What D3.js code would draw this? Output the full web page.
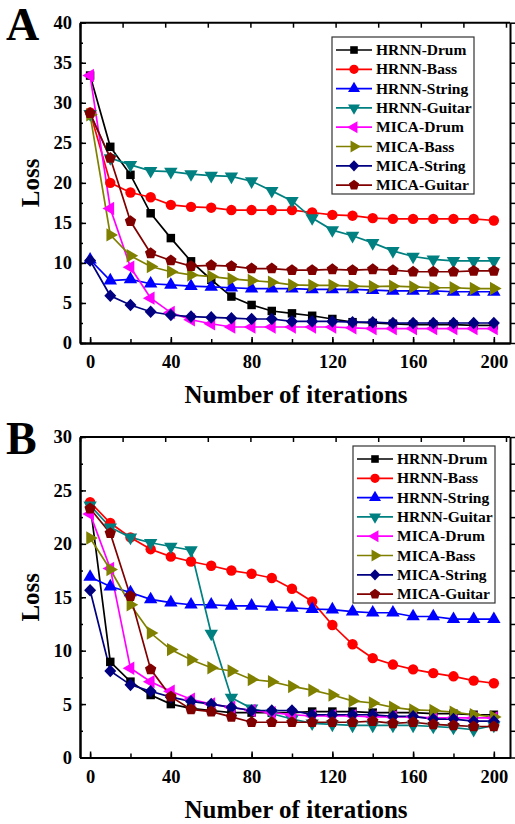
<!DOCTYPE html>
<html>
<head>
<meta charset="utf-8">
<script src="https://cdn.jsdelivr.net/npm/d3@7"></script>
<style>
  body { margin: 0; background: #fff; }
  svg { display: block; }
  text { font-family: "Liberation Serif", "Times New Roman", serif; font-weight: bold; }
</style>
</head>
<body>
<div id="chart"></div>
<script>
const W = 515, H = 824;

const iterations = [0, 10, 20, 30, 40, 50, 60, 70, 80, 90, 100, 110, 120, 130, 140, 150, 160, 170, 180, 190, 200];
const seriesNames = ["HRNN-Drum", "HRNN-Bass", "HRNN-String", "HRNN-Guitar", "MICA-Drum", "MICA-Bass", "MICA-String", "MICA-Guitar"];
const xTicks = [0, 40, 80, 120, 160, 200];
const yTicksA = [0, 5, 10, 15, 20, 25, 30, 35, 40];
const yTicksB = [0, 5, 10, 15, 20, 25, 30];

// panel A
const aHrnnDrum = [33.4, 24.5, 21.0, 16.2, 13.1, 10.2, 7.9, 5.8, 4.75, 4.0, 3.7, 3.4, 3.0, 2.6, 2.5, 2.4, 2.3, 2.3, 2.3, 2.2, 2.2];
const aHrnnBass = [28.8, 20.0, 18.8, 18.2, 17.25, 17.0, 16.9, 16.6, 16.6, 16.6, 16.6, 16.3, 16.0, 15.9, 15.6, 15.5, 15.5, 15.5, 15.5, 15.5, 15.3];
const aHrnnString = [10.4, 7.8, 7.95, 7.4, 7.25, 7.1, 7.0, 6.9, 6.8, 6.8, 6.8, 6.7, 6.7, 6.7, 6.6, 6.5, 6.5, 6.5, 6.4, 6.4, 6.4];
const aHrnnGuitar = [28.6, 23.1, 22.25, 21.5, 21.4, 21.1, 20.9, 20.8, 20.2, 19.0, 17.75, 15.6, 14.1, 13.4, 12.5, 11.5, 10.8, 10.45, 10.25, 10.25, 10.25];
const aMicaDrum = [33.4, 16.8, 9.45, 5.6, 3.8, 2.9, 2.4, 2.0, 2.0, 2.0, 2.0, 2.0, 2.0, 1.9, 1.8, 1.8, 1.8, 1.8, 1.8, 1.8, 1.8];
const aMicaBass = [28.5, 13.5, 10.9, 9.55, 8.9, 8.5, 8.3, 8.0, 7.8, 7.6, 7.25, 7.2, 7.2, 7.1, 7.05, 7.1, 7.0, 6.9, 6.9, 6.8, 6.8];
const aMicaString = [10.3, 5.9, 4.75, 3.9, 3.5, 3.3, 3.2, 3.1, 3.0, 3.0, 2.7, 2.7, 2.7, 2.6, 2.6, 2.5, 2.5, 2.5, 2.5, 2.5, 2.5];
const aMicaGuitar = [28.7, 23.1, 15.2, 11.2, 10.3, 9.6, 9.7, 9.6, 9.3, 9.3, 9.1, 9.1, 9.2, 9.1, 9.2, 9.1, 8.9, 8.9, 8.9, 9.0, 9.0];

// panel B
const bHrnnDrum = [23.7, 8.95, 7.1, 5.85, 5.0, 4.6, 4.4, 4.2, 4.2, 4.2, 4.2, 4.3, 4.3, 4.3, 4.2, 4.2, 4.2, 4.1, 4.1, 4.0, 4.0];
const bHrnnBass = [23.9, 21.95, 20.6, 19.5, 18.8, 18.35, 17.95, 17.5, 17.2, 16.8, 15.8, 14.6, 12.4, 10.6, 9.3, 8.7, 8.25, 7.9, 7.6, 7.2, 6.95];
const bHrnnString = [16.9, 16.0, 15.45, 14.8, 14.5, 14.3, 14.3, 14.2, 14.2, 14.1, 14.0, 13.9, 13.85, 13.65, 13.55, 13.55, 13.2, 13.2, 12.95, 12.95, 12.95];
const bHrnnGuitar = [23.6, 21.55, 20.6, 20.1, 19.75, 19.4, 11.6, 5.6, 4.6, 4.1, 3.6, 3.2, 3.1, 3.0, 3.0, 3.0, 3.0, 2.9, 2.8, 2.6, 3.0];
const bMicaDrum = [22.8, 17.7, 8.35, 7.1, 6.2, 5.45, 5.0, 4.7, 4.4, 4.2, 4.0, 3.9, 3.9, 3.9, 3.8, 3.8, 3.8, 3.7, 3.7, 3.7, 3.7];
const bMicaBass = [20.55, 17.6, 14.3, 11.65, 10.1, 9.15, 8.4, 8.1, 7.3, 7.1, 6.65, 6.3, 5.85, 5.3, 5.1, 4.7, 4.45, 4.4, 4.25, 4.0, 3.8];
const bMicaString = [15.65, 8.1, 6.8, 6.2, 5.65, 5.25, 5.0, 4.7, 4.4, 4.4, 4.4, 4.0, 4.0, 4.0, 4.0, 3.85, 3.85, 3.6, 3.6, 3.4, 3.4];
const bMicaGuitar = [23.3, 21.0, 15.1, 8.25, 5.7, 4.5, 4.3, 3.8, 3.3, 3.3, 3.3, 3.3, 3.3, 3.3, 3.4, 3.2, 3.3, 3.1, 3.0, 2.9, 2.9];

const colors = ["#000000", "#ff0000", "#0000ff", "#008080", "#ff00ff", "#808000", "#000080", "#800000"];

// pentagon and square-ish diamond markers for d3.symbol
const symbolPentagon = {
    draw(context, size) {
        const r = Math.sqrt(size / 2.378);
        for (let i = 0; i < 5; i++) {
            const a = -Math.PI / 2 + i * 2 * Math.PI / 5;
            const px = r * Math.cos(a), py = r * Math.sin(a);
            if (i === 0) context.moveTo(px, py); else context.lineTo(px, py);
        }
        context.closePath();
    }
};
const symbolRhomb = {
    draw(context, size) {
        const r = Math.sqrt(size / 2);
        context.moveTo(0, -r * 1.05);
        context.lineTo(r, 0);
        context.lineTo(0, r * 1.05);
        context.lineTo(-r, 0);
        context.closePath();
    }
};

// [type, size, rotation]
const markers = [
    [d3.symbolSquare, 72, 0],
    [d3.symbolCircle, 85, 0],
    [d3.symbolTriangle, 78, 0],
    [d3.symbolTriangle, 78, 180],
    [d3.symbolTriangle, 78, -90],
    [d3.symbolTriangle, 78, 90],
    [symbolRhomb, 72, 0],
    [symbolPentagon, 85, 0]
];

const svg = d3.select("#chart").append("svg")
    .attr("width", W)
    .attr("height", H);

function drawPanel(cfg) {
    const x = d3.scaleLinear().domain([-5, 208]).range([80, 510]);
    const y = d3.scaleLinear().domain([0, cfg.yMax]).range([cfg.bottom, cfg.top]);
    const g = svg.append("g");

    const lines = d3.line()
        .x((d, i) => x(iterations[i]))
        .y(d => y(d));

    cfg.series.forEach((vals, k) => {
        g.append("path")
            .attr("d", lines(vals))
            .attr("fill", "none")
            .attr("stroke", colors[k])
            .attr("stroke-width", 1.7);
    });
    cfg.series.forEach((vals, k) => {
        const m = markers[k];
        g.selectAll(null)
            .data(vals)
            .join("path")
            .attr("d", d3.symbol().type(m[0]).size(m[1]))
            .attr("transform", (d, i) => `translate(${x(iterations[i])},${y(d)}) rotate(${m[2]})`)
            .attr("fill", colors[k]);
    });

    // axes
    const minorX = d3.range(0, 201, 20);
    const minorY = d3.range(0, cfg.yMax + 0.1, 2.5);

    g.append("g")
        .attr("transform", `translate(0,${cfg.bottom})`)
        .call(d3.axisBottom(x).tickValues(xTicks).tickSizeInner(-6).tickSizeOuter(0).tickPadding(12))
        .call(a => a.selectAll(".tick text").attr("font-size", 18.5).attr("font-family", "Liberation Serif").attr("font-weight", "bold"));
    g.append("g")
        .attr("transform", `translate(0,${cfg.bottom})`)
        .call(d3.axisBottom(x).tickValues(minorX).tickSizeInner(-4).tickSizeOuter(0).tickFormat(""));

    g.append("g")
        .attr("transform", "translate(80,0)")
        .call(d3.axisLeft(y).tickValues(cfg.yTicks).tickSizeInner(-6).tickSizeOuter(0).tickPadding(8))
        .call(a => a.selectAll(".tick text").attr("font-size", 18.5).attr("font-family", "Liberation Serif").attr("font-weight", "bold"));
    g.append("g")
        .attr("transform", "translate(80,0)")
        .call(d3.axisLeft(y).tickValues(minorY).tickSizeInner(-3).tickSizeOuter(0).tickFormat(""));

    // top axis: ten even divisions of the frame
    const xt = d3.scaleLinear().domain([0, 10]).range([80, 506]);
    g.append("g")
        .attr("transform", `translate(0,${cfg.top})`)
        .call(d3.axisTop(xt).ticks(10).tickSizeInner(-5).tickSizeOuter(0).tickFormat(""))
        .call(a => a.select(".domain").attr("d", `M80,0H510`));

    g.append("g")
        .attr("transform", "translate(510,0)")
        .call(d3.axisRight(y).tickValues(minorY).tickSizeInner(5).tickSizeOuter(0).tickFormat(""));

    g.selectAll(".domain").attr("stroke", "#000").attr("stroke-width", 2);
    g.selectAll(".tick line").attr("stroke", "#000").attr("stroke-width", 1.5);

    // axis titles
    g.append("text")
        .attr("x", 296).attr("y", cfg.bottom + 60)
        .attr("text-anchor", "middle")
        .attr("font-size", 25)
        .text("Number of iterations");
    g.append("text")
        .attr("transform", `translate(39,${(cfg.top + cfg.bottom) / 2}) rotate(-90)`)
        .attr("text-anchor", "middle")
        .attr("font-size", 25)
        .text("Loss");
    g.append("text")
        .attr("x", 6).attr("y", cfg.top + 17)
        .attr("font-size", 46)
        .text(cfg.label);

    // legend
    const lg = g.append("g").attr("transform", `translate(${cfg.legX},${cfg.legY})`);
    lg.append("rect")
        .attr("width", 142).attr("height", 157)
        .attr("fill", "#fff")
        .attr("stroke", "#333")
        .attr("stroke-width", 1.2);
    seriesNames.forEach((name, k) => {
        const yy = 13 + k * 19.3;
        const m = markers[k];
        lg.append("line")
            .attr("x1", 4).attr("x2", 40)
            .attr("y1", yy).attr("y2", yy)
            .attr("stroke", colors[k]).attr("stroke-width", 1.7);
        lg.append("path")
            .attr("d", d3.symbol().type(m[0]).size(m[1] * 0.8))
            .attr("transform", `translate(22,${yy}) rotate(${m[2]})`)
            .attr("fill", colors[k]);
        lg.append("text")
            .attr("x", 44).attr("y", yy + 5)
            .attr("font-size", 15.5)
            .text(name);
    });
}

drawPanel({
    label: "A", top: 22.7, bottom: 343, yMax: 40, yTicks: yTicksA,
    legX: 332, legY: 37,
    series: [aHrnnDrum, aHrnnBass, aHrnnString, aHrnnGuitar, aMicaDrum, aMicaBass, aMicaString, aMicaGuitar]
});
drawPanel({
    label: "B", top: 437, bottom: 757.5, yMax: 30, yTicks: yTicksB,
    legX: 353, legY: 446,
    series: [bHrnnDrum, bHrnnBass, bHrnnString, bHrnnGuitar, bMicaDrum, bMicaBass, bMicaString, bMicaGuitar]
});
</script>
</body>
</html>
